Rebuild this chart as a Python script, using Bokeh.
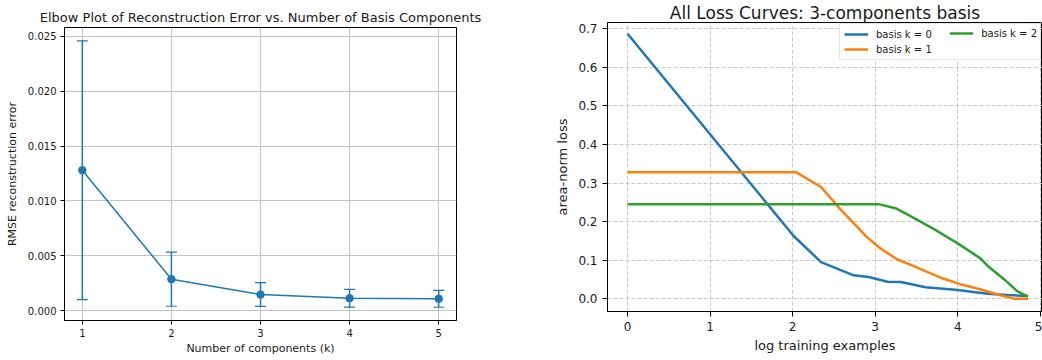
from bokeh.plotting import figure
from bokeh.layouts import row
from bokeh.models import Range1d, FixedTicker, Legend, LegendItem, PrintfTickFormatter
from bokeh.embed import file_html
from bokeh.resources import INLINE

# ---------------- data ----------------
ks = [1, 2, 3, 4, 5]
rmse_mean = [0.0128, 0.00286, 0.00146, 0.00112, 0.00107]
rmse_err = [0.0118, 0.00247, 0.00109, 0.00081, 0.00077]
left_yticks = [0.0, 0.005, 0.010, 0.015, 0.020, 0.025]

k0_x = [0.0, 2.01, 2.344, 2.74, 2.92, 3.15, 3.31, 3.61, 4.0, 4.36, 4.60, 4.85]
k0_y = [0.687, 0.1636, 0.095, 0.061, 0.0566, 0.0445, 0.0437, 0.030, 0.023, 0.0135, 0.010, 0.0075]
k1_x = [0.0, 2.045, 2.344, 2.58, 2.90, 3.06, 3.27, 3.43, 3.83, 4.03, 4.27, 4.52, 4.68, 4.85]
k1_y = [0.328, 0.328, 0.290, 0.232, 0.160, 0.131, 0.102, 0.088, 0.052, 0.038, 0.025, 0.0093, 0.0005, 0.0]
k2_x = [0.0, 3.04, 3.245, 3.39, 3.75, 3.99, 4.275, 4.36, 4.56, 4.72, 4.85]
k2_y = [0.2455, 0.2455, 0.235, 0.219, 0.176, 0.145, 0.105, 0.086, 0.051, 0.020, 0.006]
right_xticks = [0, 1, 2, 3, 4, 5]
right_yticks = [0.0, 0.1, 0.2, 0.3, 0.4, 0.5, 0.6, 0.7]
labels = ["basis k = 0", "basis k = 1", "basis k = 2"]

BLUE, ORANGE, GREEN = "#1f77b4", "#ff7f0e", "#2ca02c"
FONT = "DejaVu Sans"
TXT = "#1a1a1a"


def style_axes(p, tick_size, label_size, tick_out, standoff):
    for ax in (p.xaxis[0], p.yaxis[0]):
        ax.major_label_text_font = FONT
        ax.major_label_text_font_size = tick_size
        ax.major_label_text_color = TXT
        ax.axis_label_text_font = FONT
        ax.axis_label_text_font_size = label_size
        ax.axis_label_text_font_style = "normal"
        ax.axis_label_text_color = TXT
        ax.major_tick_out = tick_out
        ax.major_tick_in = 0
        ax.minor_tick_line_color = None
        ax.axis_line_color = "black"
        ax.major_tick_line_color = "black"
        ax.major_label_standoff = standoff
    p.outline_line_color = "black"
    p.outline_line_alpha = 1
    p.title.text_font = FONT
    p.title.text_font_style = "normal"
    p.title.text_color = TXT
    p.title.align = "center"
    p.frame_align = False


# ---------------- left: elbow plot ----------------
p1 = figure(width=520, height=360, x_range=Range1d(0.8, 5.2),
            y_range=Range1d(-0.00091, 0.02582),
            output_backend="svg", toolbar_location=None,
            min_border_left=64, min_border_right=64,
            min_border_top=27, min_border_bottom=40,
            title="Elbow Plot of Reconstruction Error vs. Number of Basis Components")
style_axes(p1, "10px", "11px", 4, 4)
p1.title.text_font_size = "13px"
p1.title.standoff = 5
p1.xaxis.ticker = FixedTicker(ticks=ks)
p1.yaxis.ticker = FixedTicker(ticks=left_yticks)
p1.yaxis.formatter = PrintfTickFormatter(format="%.3f")
p1.xaxis.axis_label = "Number of components (k)"
p1.yaxis.axis_label = "RMSE reconstruction error"
p1.xaxis.axis_label_standoff = 2
p1.yaxis.axis_label_standoff = 6
p1.grid.grid_line_color = "#c4c4c4"
p1.grid.grid_line_width = 1

upper = [m + e for m, e in zip(rmse_mean, rmse_err)]
lower = [m - e for m, e in zip(rmse_mean, rmse_err)]
p1.segment(x0=ks, y0=lower, x1=ks, y1=upper, line_color=BLUE, line_width=1.5)
p1.scatter(ks, upper, marker="dash", size=11, line_color=BLUE, line_width=1.2)
p1.scatter(ks, lower, marker="dash", size=11, line_color=BLUE, line_width=1.2)
p1.line(ks, rmse_mean, line_color=BLUE, line_width=1.5)
p1.scatter(ks, rmse_mean, size=7.5, fill_color=BLUE, line_color=BLUE)

# ---------------- right: loss curves ----------------
p2 = figure(width=522, height=360, x_range=Range1d(-0.2425, 5.027),
            y_range=Range1d(-0.0328, 0.7163),
            output_backend="svg", toolbar_location=None,
            min_border_left=87, min_border_right=0,
            min_border_top=21, min_border_bottom=49,
            title="All Loss Curves: 3-components basis")
style_axes(p2, "12px", "13px", 5, 5)
p2.title.text_font_size = "17px"
p2.title.standoff = 0
p2.xaxis.ticker = FixedTicker(ticks=right_xticks)
p2.yaxis.ticker = FixedTicker(ticks=right_yticks)
p2.xaxis.formatter = PrintfTickFormatter(format="%d")
p2.yaxis.formatter = PrintfTickFormatter(format="%.1f")
p2.xaxis.axis_label = "log training examples"
p2.yaxis.axis_label = "area-norm loss"
p2.xaxis.axis_label_standoff = 4
p2.yaxis.axis_label_standoff = 5
p2.grid.grid_line_color = "#c8c8c8"
p2.grid.grid_line_dash = "4 2"
p2.grid.grid_line_width = 1

r0 = p2.line(k0_x, k0_y, line_color=BLUE, line_width=2.5)
r1 = p2.line(k1_x, k1_y, line_color=ORANGE, line_width=2.5)
r2 = p2.line(k2_x, k2_y, line_color=GREEN, line_width=2.5)

common = dict(location="top_right", margin=1, padding=4, spacing=3,
              glyph_height=12, label_height=12, glyph_width=24,
              label_standoff=8, label_text_font=FONT,
              label_text_font_size="10px", label_text_color=TXT)
legA = Legend(items=[LegendItem(label=labels[0], renderers=[r0]),
                     LegendItem(label=labels[1], renderers=[r1])],
              label_width=160, border_line_color="#cccccc",
              background_fill_color="white", background_fill_alpha=0.85,
              **common)
legB = Legend(items=[LegendItem(label=labels[2], renderers=[r2])],
              border_line_alpha=0, background_fill_alpha=0, **common)
p2.add_layout(legA)
p2.add_layout(legB)

layout = row(p1, p2)
open("out.html", "w").write(file_html(layout, INLINE))
